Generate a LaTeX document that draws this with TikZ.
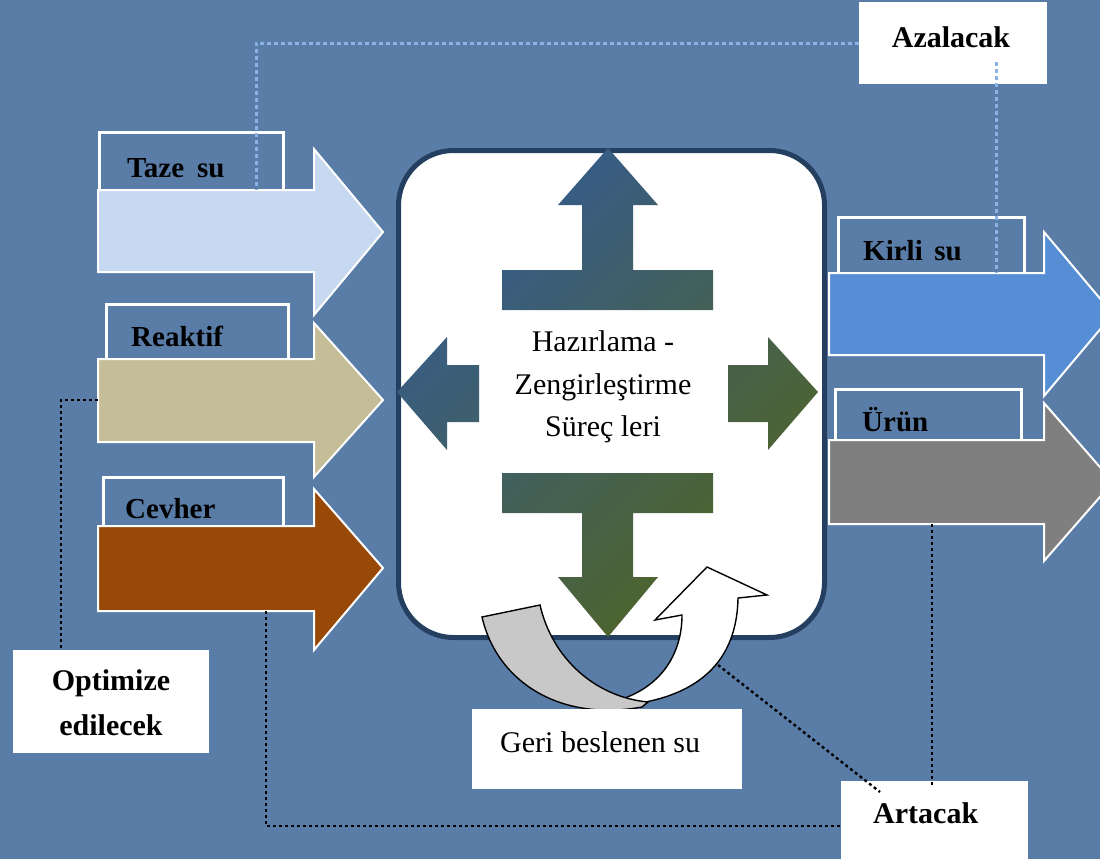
\documentclass[tikz,border=0pt]{standalone}
\usepackage{fontspec}
\setmainfont{Liberation Serif}
\definecolor{bgblue}{HTML}{5A7DA8}
\definecolor{tazec}{HTML}{C6D9F1}
\definecolor{reakc}{HTML}{C4BD97}
\definecolor{cevc}{HTML}{984807}
\definecolor{kirlic}{HTML}{558ED5}
\definecolor{urunc}{HTML}{7F7F7F}
\definecolor{navy}{HTML}{243F60}
\definecolor{inblue}{HTML}{355C90}
\definecolor{inolive}{HTML}{506424}
\definecolor{dotblue}{HTML}{8AB2E6}
\definecolor{curvegray}{HTML}{C8C8C8}
\begin{document}
\begin{tikzpicture}[x=1pt,y=-1pt,
  bigarrow/.style={draw=white, line width=2pt, line join=miter},
  lblbox/.style={draw=white, line width=2.5pt, fill=none},
  wbox/.style={fill=white, draw=none, inner sep=0pt, anchor=north west},
  lbl/.style={font=\fontsize{29}{30}\selectfont\bfseries, anchor=base west, inner sep=0pt},
  blbl/.style={font=\fontsize{30}{31}\selectfont\bfseries, inner sep=0pt},
  rlbl/.style={font=\fontsize{30}{31}\selectfont, inner sep=0pt},
  blackdot/.style={draw=black, line width=2.4pt, dash pattern=on 3pt off 3pt},
  bluedot/.style={draw=dotblue, line width=3pt, dash pattern=on 4pt off 3pt},
  curvepiece/.style={draw=black, line width=1.4pt, line join=miter}
]
\useasboundingbox (0,0) rectangle (1100,859);
\clip (0,0) rectangle (1100,859);
\fill[bgblue] (0,0) rectangle (1100,859);

% label boxes (outline only)
\node[lblbox, minimum width=184pt, minimum height=59pt, anchor=north west, inner sep=0pt] (tazebox) at (98,131) {};
\node[lblbox, minimum width=182pt, minimum height=57pt, anchor=north west, inner sep=0pt] (reakbox) at (105,303) {};
\node[lblbox, minimum width=180pt, minimum height=50pt, anchor=north west, inner sep=0pt] (cevbox) at (102,476) {};
\node[lblbox, minimum width=186pt, minimum height=57pt, anchor=north west, inner sep=0pt] (kirlibox) at (837,216) {};
\node[lblbox, minimum width=186pt, minimum height=52pt, anchor=north west, inner sep=0pt] (urunbox) at (834,388) {};

% left block arrows
\path[bigarrow, fill=tazec] (98,190) -- (314,190) -- (314,149) -- (383,232) -- (314,315) -- (314,272) -- (98,272) -- cycle;
\path[bigarrow, fill=reakc] (98,359) -- (314,359) -- (314,323) -- (383,400) -- (314,477) -- (314,442) -- (98,442) -- cycle;
\path[bigarrow, fill=cevc] (98,526) -- (314,526) -- (314,489) -- (383,568) -- (314,650) -- (314,611) -- (98,611) -- cycle;
% right block arrows
\path[bigarrow, fill=kirlic] (829,273) -- (1044,273) -- (1044,232) -- (1113,314) -- (1044,396) -- (1044,355) -- (829,355) -- cycle;
\path[bigarrow, fill=urunc] (829,440) -- (1044,440) -- (1044,403) -- (1113,482) -- (1044,561) -- (1044,524) -- (829,524) -- cycle;

% connection coordinates
\coordinate (tazetop) at (256,190);
\coordinate (reakleft) at (98,400);
\coordinate (cevbottom) at (266,611);
\coordinate (kirlitop) at (996,273);
\coordinate (urunbottom) at (932,524);
\coordinate (curvept) at (718,665);

% labels
\node[lbl] (taze) at (127,177) {Taze\hspace{0.45em}su};
\node[lbl] (reak) at (131,346) {Reaktif};
\node[lbl] (cev) at (125,518) {Cevher};
\node[lbl] (kirli) at (863,260) {Kirli\hspace{0.4em}su};
\node[lbl] (urun) at (862,431) {Ürün};

% central rounded box
\node[draw=navy, line width=5pt, fill=white, rounded corners=55pt, minimum width=426pt, minimum height=487pt, anchor=north west, inner sep=0pt] (center) at (396,148) {};

% inner four-way arrows
\shade[top color=inblue, bottom color=inolive, shading angle=45]
  (502,270) -- (582,270) -- (582,205) -- (558,205) -- (608,148) -- (658,205) -- (633,205) -- (633,270) -- (713,270) -- (713,310) -- (502,310) -- cycle
  (502,473) -- (713,473) -- (713,513) -- (633,513) -- (633,577) -- (658,577) -- (608,637) -- (558,577) -- (582,577) -- (582,513) -- (502,513) -- cycle
  (397,392) -- (447,337) -- (447,365) -- (479,365) -- (479,422) -- (447,422) -- (447,450) -- cycle
  (818,392) -- (768,337) -- (768,365) -- (728,365) -- (728,422) -- (768,422) -- (768,450) -- cycle;

\node[rlbl, align=center, font=\fontsize{30}{42.5}\selectfont] (ctext) at (603,387) {Hazırlama -\\Zengirleştirme\\Süreç leri};

% curved feedback arrows
\path[curvepiece, fill=white] (615,706) .. controls (700,700) and (737,660) .. (738,598) -- (767,595) -- (707,567) -- (655,620) -- (682,615) .. controls (682,655) and (660,690) .. (612,702) -- cycle;
\path[curvepiece, fill=curvegray] (482,617) -- (540,605) .. controls (552,658) and (595,697) .. (648,702) -- (642,707) .. controls (560,722) and (497,682) .. cycle;

% white text boxes
\node[wbox, minimum width=188pt, minimum height=82pt] (azbox) at (859,2) {};
\node[wbox, minimum width=196pt, minimum height=103pt] (optbox) at (13,650) {};
\node[wbox, minimum width=187pt, minimum height=90pt] (artbox) at (841,781) {};
\node[wbox, minimum width=270pt, minimum height=80pt] (geribox) at (472,709) {};

\node[blbl, anchor=base] (azalacak) at (951,48) {Azalacak};
\node[blbl, anchor=base, align=center, font=\fontsize{30}{45}\selectfont\bfseries] (optimize) at (111,735) {Optimize\\edilecek};
\node[blbl, anchor=base west] (artacak) at (873,823) {Artacak};
\node[rlbl, anchor=base west] (geri) at (500,752) {Geri beslenen su};

% blue dotted connectors
\coordinate (azinner) at (996,62);
\draw[bluedot] (azbox.west) -| (tazetop);
\draw[bluedot] (azinner) -- (kirlitop);

% black dotted connectors
\coordinate (optin) at (61,650);
\draw[blackdot] (reakleft) -| (optin);
\draw[blackdot] (cevbottom) |- (artbox.west);
\coordinate (artin) at (932,785);
\draw[blackdot] (urunbottom) -- (artin);
\coordinate (artin2) at (880,792);
\draw[blackdot] (curvept) -- (artin2);
\end{tikzpicture}
\end{document}
